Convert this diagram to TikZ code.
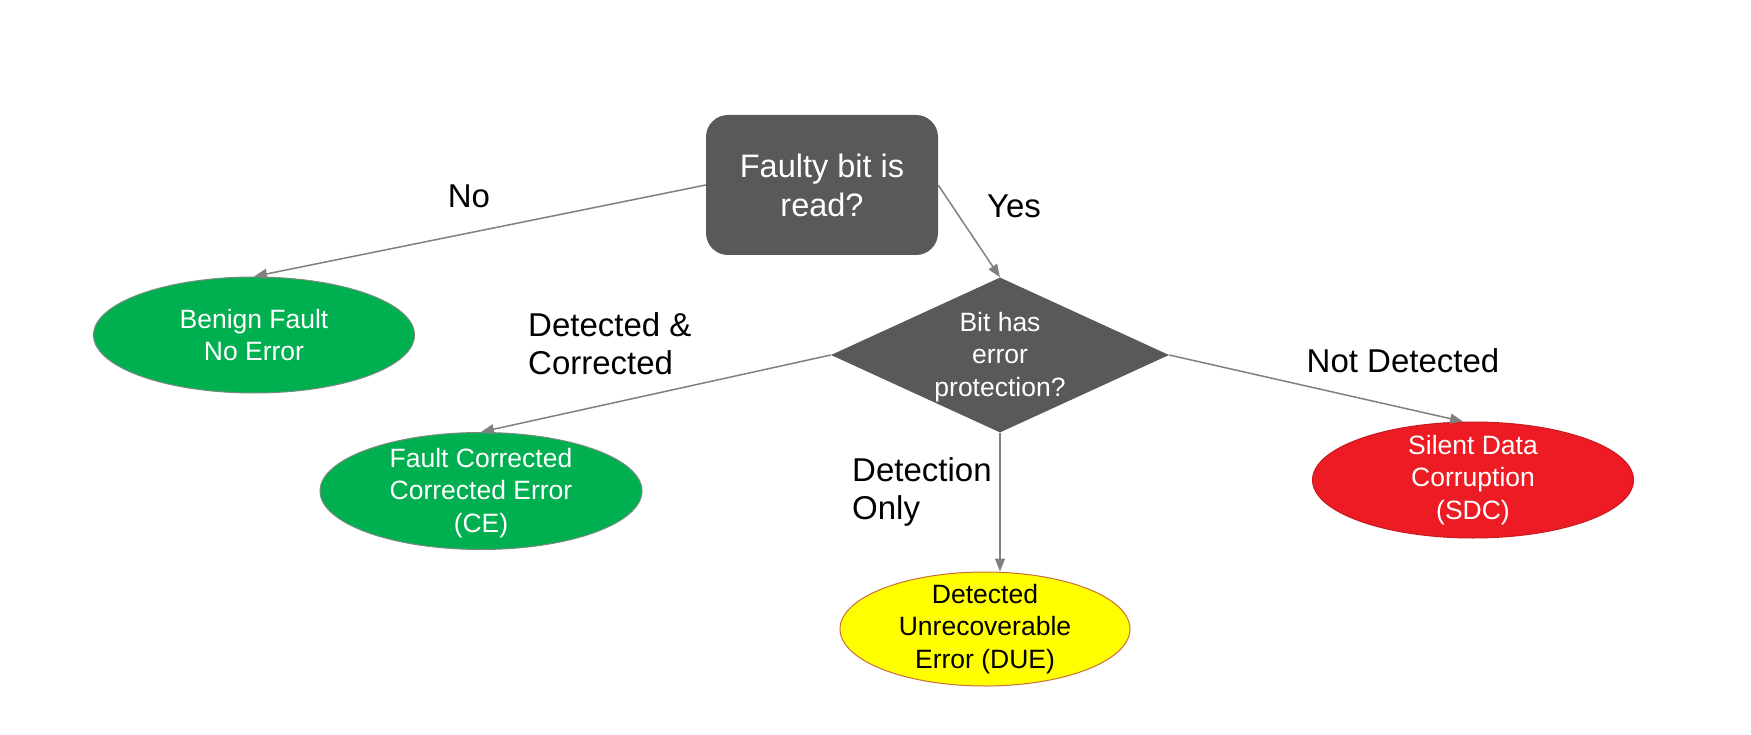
\documentclass[tikz,border=0pt]{standalone}
\usepackage{fontspec}
\setmainfont{Liberation Sans}
\usetikzlibrary{shapes.geometric,arrows.meta}

\definecolor{boxgray}{RGB}{88,89,91}
\definecolor{linegray}{RGB}{128,128,128}
\definecolor{okgreen}{RGB}{0,176,80}
\definecolor{sdcred}{RGB}{237,28,36}
\definecolor{dueyellow}{RGB}{255,255,0}
\definecolor{dueedge}{RGB}{200,110,60}
\definecolor{greenedge}{RGB}{120,140,125}

\tikzset{
  outcome/.style={ellipse, line width=1pt, minimum width=321pt, minimum height=116pt, inner sep=0pt},
  shapetext/.style={align=center, inner sep=0pt, font={\fontsize{26.5pt}{32.5pt}\selectfont}},
  boxtext/.style={align=center, text=white, font={\fontsize{32.5pt}{39pt}\selectfont}},
  edgelabel/.style={align=left, inner sep=0pt, text=black, font={\fontsize{33pt}{38pt}\selectfont}},
  flow/.style={draw=linegray, line width=1.5pt, -{Triangle[length=13pt,width=10pt]}}
}

\begin{document}
\begin{tikzpicture}[x=1pt,y=-1pt]
\useasboundingbox[fill=white] (0,0) rectangle (1751,735);

% question nodes
\node[rectangle, rounded corners=22pt, fill=boxgray, minimum width=232pt, minimum height=140pt, inner sep=0pt, boxtext]
  (read) at (822,185) {Faulty bit is\\read?};
\node[diamond, fill=boxgray, minimum width=338pt, minimum height=155pt, inner sep=0pt] (prot) at (1000,355) {};
\node[shapetext, text=white] (prottext) at (1000,357) {Bit has\\error\\protection?};

% outcomes
\node[outcome, fill=okgreen, draw=greenedge] (benign) at (254,335) {};
\node[shapetext, text=white] (benigntext) at (254,335) {Benign Fault\\No Error};

\node[outcome, fill=okgreen, draw=greenedge, minimum width=322pt, minimum height=117pt] (ce) at (481,491) {};
\node[shapetext, text=white] (cetext) at (481,493) {Fault Corrected\\Corrected Error\\(CE)};

\node[outcome, fill=dueyellow, draw=dueedge, minimum width=290pt, minimum height=114pt] (due) at (985,629) {};
\node[shapetext, text=black] (duetext) at (985,629) {Detected\\Unrecoverable\\Error (DUE)};

\node[outcome, fill=sdcred, draw=sdcred!85!black] (sdc) at (1473,480) {};
\node[shapetext, text=white] (sdctext) at (1473,480) {Silent Data\\Corruption\\(SDC)};

% connectors
\draw[flow] (read.west) -- (benign.north);
\draw[flow] (read.east) -- (prot.north);
\draw[flow] (prot.west) -- (ce.north);
\draw[flow] (prot.east) -- ([xshift=-10pt]sdc.north);
\draw[flow] (prot.south) -- (prot.south |- due.north);

% connector labels
\node[edgelabel] (lno) at (469,196) {No};
\node[edgelabel] (lyes) at (1014,206) {Yes};
\node[edgelabel, anchor=west] (ldc) at (528,344) {Detected \&\\Corrected};
\node[edgelabel] (lnd) at (1403,361) {Not Detected};
\node[edgelabel, anchor=west] (ldo) at (852,492) {Detection\\Only};
\end{tikzpicture}
\end{document}
